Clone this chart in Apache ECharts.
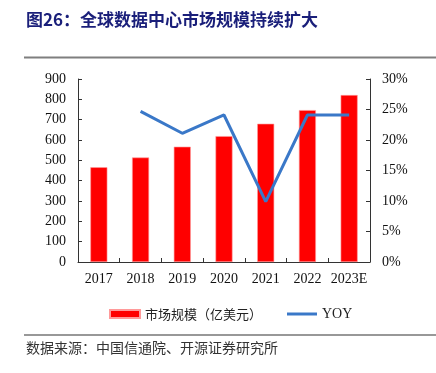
<!DOCTYPE html>
<html><head><meta charset="utf-8">
<script src="https://cdn.jsdelivr.net/npm/echarts@6/dist/echarts.min.js"></script>
<style>html,body{margin:0;padding:0;background:#fff}#c{width:436px;height:373px}</style>
</head><body><div id="c"></div>
<script>
const categories = ['2017','2018','2019','2020','2021','2022','2023E'];
const marketSize = [466, 514, 567, 619, 680, 747, 821];
const yoy = [null, 24.7, 21.1, 24.1, 9.9, 24.1, 24.1];
const leftTicks = {min:0, max:900, interval:100};
const rightTicks = {min:0, max:30, interval:5};

const serif = '"Liberation Serif","Times New Roman",serif';
const cjk = '"Noto Sans CJK SC",sans-serif';
const chart = echarts.init(document.getElementById('c'));
chart.setOption({
  animation:false,
  grid:{left:78, right:66, top:79, bottom:111},
  graphic:[
    {type:'text', left:26, top:11, style:{text:'图26：全球数据中心市场规模持续扩大', font:'bold 17px '+cjk, fill:'#1a1f7a'}},
    {type:'line', shape:{x1:24,y1:57.5,x2:436,y2:57.5}, style:{stroke:'#7f7f7f', lineWidth:2}},
    {type:'line', shape:{x1:24,y1:335,x2:436,y2:335}, style:{stroke:'#333', lineWidth:1.2}},
    {type:'text', left:26, top:341, style:{text:'数据来源：中国信通院、开源证券研究所', font:'14px '+cjk, fill:'#333'}}
  ],
  legend:{left:104, top:302, itemGap:25, itemWidth:30, itemHeight:8,
    textStyle:{fontFamily:cjk, fontSize:13, color:'#222'},
    data:[{name:'市场规模（亿美元）', icon:'rect'},
          {name:'YOY', icon:'path://M0,0L30,0L30,3L0,3Z', textStyle:{fontFamily:serif, fontSize:14}}]},
  xAxis:{type:'category', data:categories,
    axisLine:{lineStyle:{color:'#333', width:1}},
    axisTick:{show:true, inside:true, length:4, lineStyle:{color:'#333'}},
    axisLabel:{fontFamily:serif, fontSize:14, color:'#111', margin:10, interval:0}},
  yAxis:[
    {type:'value', min:leftTicks.min, max:leftTicks.max, interval:leftTicks.interval,
      axisLine:{show:true, lineStyle:{color:'#333'}},
      axisTick:{show:true, inside:true, length:4, lineStyle:{color:'#333'}},
      splitLine:{show:false},
      axisLabel:{fontFamily:serif, fontSize:14, color:'#111', margin:12}},
    {type:'value', min:rightTicks.min, max:rightTicks.max, interval:rightTicks.interval,
      axisLine:{show:true, lineStyle:{color:'#333'}},
      axisTick:{show:true, inside:true, length:4, lineStyle:{color:'#333'}},
      splitLine:{show:false},
      axisLabel:{fontFamily:serif, fontSize:14, color:'#111', margin:12, formatter:'{value}%'}}
  ],
  series:[
    {name:'市场规模（亿美元）', type:'bar', data:marketSize, barWidth:17,
      itemStyle:{color:'#ff0000', borderColor:'#ff9a9a', borderWidth:0.6}},
    {name:'YOY', type:'line', yAxisIndex:1, data:yoy, symbol:'none',
      lineStyle:{color:'#3a78c8', width:3}, itemStyle:{color:'#3a78c8'}}
  ]
});
</script></body></html>
